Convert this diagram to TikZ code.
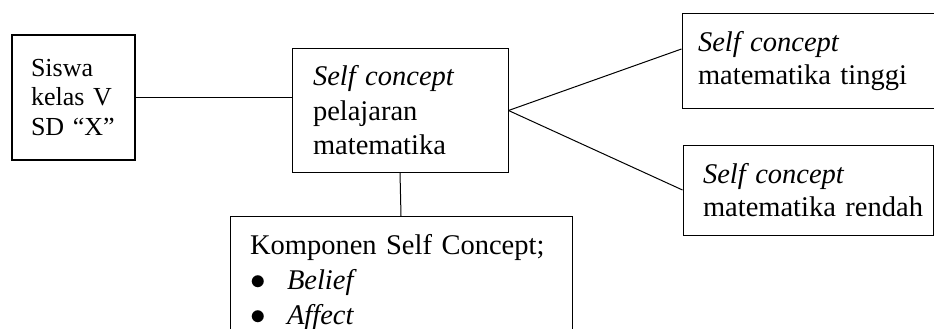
\documentclass[tikz,border=0pt]{standalone}
\usepackage{fontspec}
\setmainfont{Liberation Serif}
\begin{document}
\begin{tikzpicture}[x=1pt, y=-1pt,
    kotak/.style={draw, line width=1pt, align=left, font=\fontsize{28.5}{33}\selectfont}]
    % frame of the picture
    \useasboundingbox (0,0) rectangle (934,329);
    \clip (0,0) rectangle (934,329);

    % the boxes
    \node[kotak, line width=1.6pt, font=\fontsize{26}{29.5}\selectfont, text width=85pt, inner xsep=19pt, minimum height=125pt] (siswa) at (73.5,97.5) {Siswa\\ kelas V\\ SD “X”};
    \node[kotak, font=\fontsize{28.5}{34.5}\selectfont, text width=174pt, inner xsep=21pt, minimum height=123pt] (konsep) at (400,110.5) {\textit{Self concept}\\ pelajaran\\ matematika};
    \node[kotak, text width=238pt, inner xsep=16pt, minimum height=94pt] (tinggi) at (817,61) {\textit{Self concept}\\ matematika tinggi};
    \node[kotak, text width=210pt, inner xsep=20pt, minimum height=90pt] (rendah) at (808,190) {\textit{Self concept}\\ \mbox{matematika rendah}};
    \node[kotak, font=\fontsize{28.5}{35}\selectfont, anchor=north, text width=302pt, inner xsep=20pt, inner ysep=17.5pt] (komponen) at (401,216) {Komponen Self Concept;\\ \makebox[37pt][l]{\scalebox{1.25}{$\bullet$}}\textit{Belief}\\ \makebox[37pt][l]{\scalebox{1.25}{$\bullet$}}\textit{Affect}};

    % connecting lines
    \draw[line width=1pt] (siswa.east) -- (siswa.east -| konsep.west);
    \draw[line width=1pt] (konsep.east) -- ([yshift=12pt]tinggi.west);
    \draw[line width=1pt] (konsep.east) -- (rendah.west);
    \draw[line width=1pt] (konsep.south) -- (komponen.north);
\end{tikzpicture}
\end{document}
